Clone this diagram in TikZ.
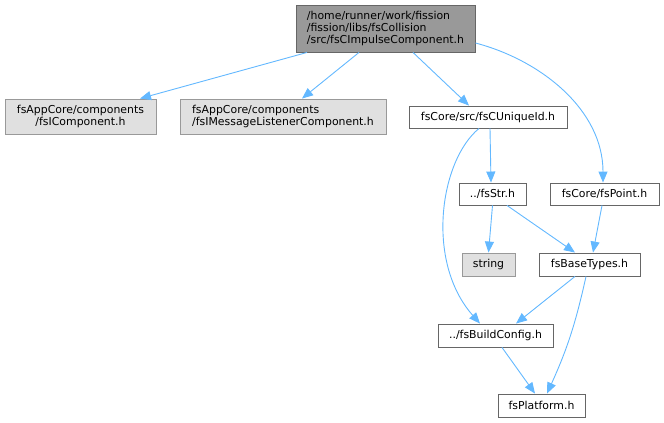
\documentclass[tikz,border=0pt]{standalone}
\usepackage{fontspec}
\setmainfont{DejaVu Sans}
\usetikzlibrary{arrows.meta}
\definecolor{edgecol}{HTML}{63B8FF}
\definecolor{boxborder}{HTML}{666666}
\definecolor{lightborder}{HTML}{999999}
\definecolor{lightfill}{HTML}{E0E0E0}
\definecolor{topfill}{HTML}{999999}
\begin{document}
\begin{tikzpicture}[x=1pt,y=-1pt,
  box/.style={draw=boxborder, fill=white, line width=0.9pt, inner sep=0pt,
    font=\fontsize{10.9}{12}\selectfont, text=black},
  graybox/.style={box, fill=lightfill, draw=lightborder},
  edge/.style={draw=edgecol, line width=0.9pt, -{Triangle[length=11pt,width=9pt]}}]
\useasboundingbox (0,0) rectangle (664,423);

\node[box, fill=topfill, align=left, minimum width=179pt, minimum height=47pt] (top) at (385.5,28.5)
  {/home/runner/work/fission\\/fission/libs/fsCollision\\/src/fsCImpulseComponent.h};
\node[graybox, align=center, minimum width=151pt, minimum height=35pt] (fsI) at (80.5,116.5)
  {fsAppCore/components\\/fsIComponent.h};
\node[graybox, align=left, minimum width=206pt, minimum height=35pt] (fsIM) at (283,116.5)
  {fsAppCore/components\\/fsIMessageListenerComponent.h};
\node[box, minimum width=158pt, minimum height=22pt] (uid) at (488,117) {fsCore/src/fsCUniqueId.h};
\node[box, minimum width=67pt, minimum height=22pt] (str) at (492.5,194) {../fsStr.h};
\node[box, minimum width=109pt, minimum height=22pt] (point) at (604.5,194) {fsCore/fsPoint.h};
\node[graybox, minimum width=53pt, minimum height=23pt] (string) at (488.5,264.5) {string};
\node[box, minimum width=101pt, minimum height=23pt] (base) at (589.5,264.5) {fsBaseTypes.h};
\node[box, minimum width=115pt, minimum height=23pt] (build) at (495.5,335.5) {../fsBuildConfig.h};
\node[box, minimum width=87pt, minimum height=23pt] (plat) at (541.5,405.5) {fsPlatform.h};

\draw[edge] ([xshift=-78.5pt]top.south) -- ([xshift=59.5pt]fsI.north);
\draw[edge] ([xshift=-26.5pt]top.south) -- ([xshift=19pt]fsIM.north);
\draw[edge] ([xshift=27.5pt]top.south) -- ([xshift=-19pt]uid.north);
\draw[edge] ([yshift=-14.5pt]top.east) .. controls +(65,17) and +(0,-73) .. ([xshift=-1.5pt]point.north);
\draw[edge] ([xshift=2pt]uid.south) -- ([xshift=-1.5pt]str.north);
\draw[edge] ([xshift=-9pt]uid.south) .. controls +(-39,32) and +(-55,-62) .. ([xshift=-15.5pt]build.north);
\draw[edge] (str.south) -- (string.north);
\draw[edge] ([xshift=14.5pt]str.south) -- ([xshift=-14.5pt]base.north);
\draw[edge] ([xshift=-2.5pt]point.south) -- ([xshift=3.5pt]base.north);
\draw[edge] ([xshift=-14.5pt]base.south) -- ([xshift=20.5pt]build.north);
\draw[edge] ([xshift=-3.5pt]base.south) to[bend left=6] ([xshift=5.5pt]plat.north);
\draw[edge] ([xshift=6.5pt]build.south) -- ([xshift=-6.5pt]plat.north);
\end{tikzpicture}
\end{document}
